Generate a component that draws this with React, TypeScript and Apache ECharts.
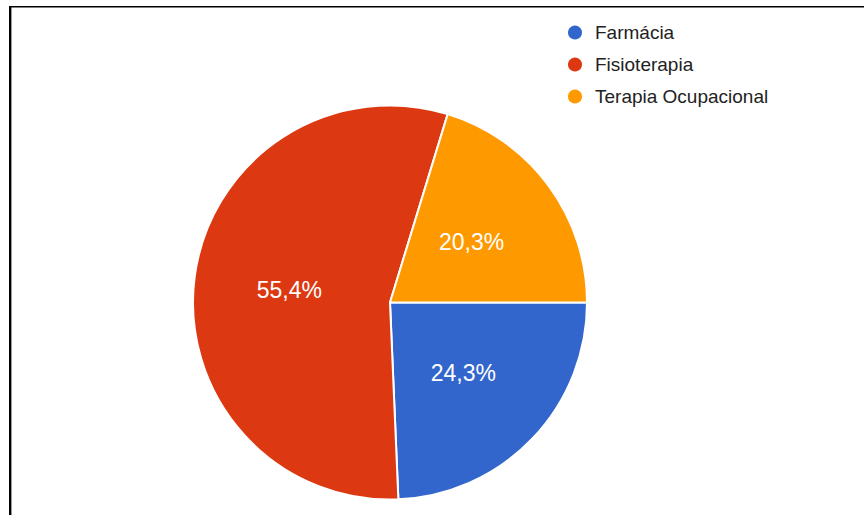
import React, { useEffect, useRef } from "react";
import * as echarts from "echarts";

const categories = ["Farmácia", "Fisioterapia", "Terapia Ocupacional"];
const counts = [18, 41, 15];
const colors = ["#3366cc", "#dc3912", "#ff9900"];

const FONT = "'Liberation Sans', Arial, Helvetica, sans-serif";

export default function App() {
  const ref = useRef<HTMLDivElement>(null);
  useEffect(() => {
    document.body.style.margin = "0";
    const chart = echarts.init(ref.current!, null, { renderer: "svg" });
    chart.setOption({
      animation: false,
      backgroundColor: "#ffffff",
      color: colors,
      legend: {
        orient: "vertical",
        left: 566,
        top: 23,
        padding: 0,
        itemWidth: 16,
        itemHeight: 16,
        itemGap: 13,
        icon: "circle",
        selectedMode: false,
        textStyle: {
          fontFamily: FONT,
          fontSize: 19,
          lineHeight: 14,
          color: "#222222",
          padding: [0, 0, 0, 7],
        },
        data: categories,
      },
      graphic: [
        { type: "rect", shape: { x: 9, y: 6, width: 855, height: 1.6 }, style: { fill: "#000" } },
        { type: "rect", shape: { x: 9, y: 6, width: 2.4, height: 509 }, style: { fill: "#000" } },
      ],
      series: [
        {
          type: "pie",
          center: [390, 302.5],
          radius: [0, 197],
          startAngle: 0,
          clockwise: true,
          emphasis: { disabled: true },
          itemStyle: { borderColor: "#ffffff", borderWidth: 2 },
          label: {
            position: "inside",
            color: "#ffffff",
            fontFamily: FONT,
            fontSize: 23,
            formatter: (p: any) => p.percent.toFixed(1).replace(".", ",") + "%",
          },
          labelLine: { show: false },
          data: categories.map((name, i) => ({ name, value: counts[i] })),
        },
      ],
    });
    return () => chart.dispose();
  }, []);
  return <div ref={ref} style={{ width: 864, height: 515 }} />;
}
